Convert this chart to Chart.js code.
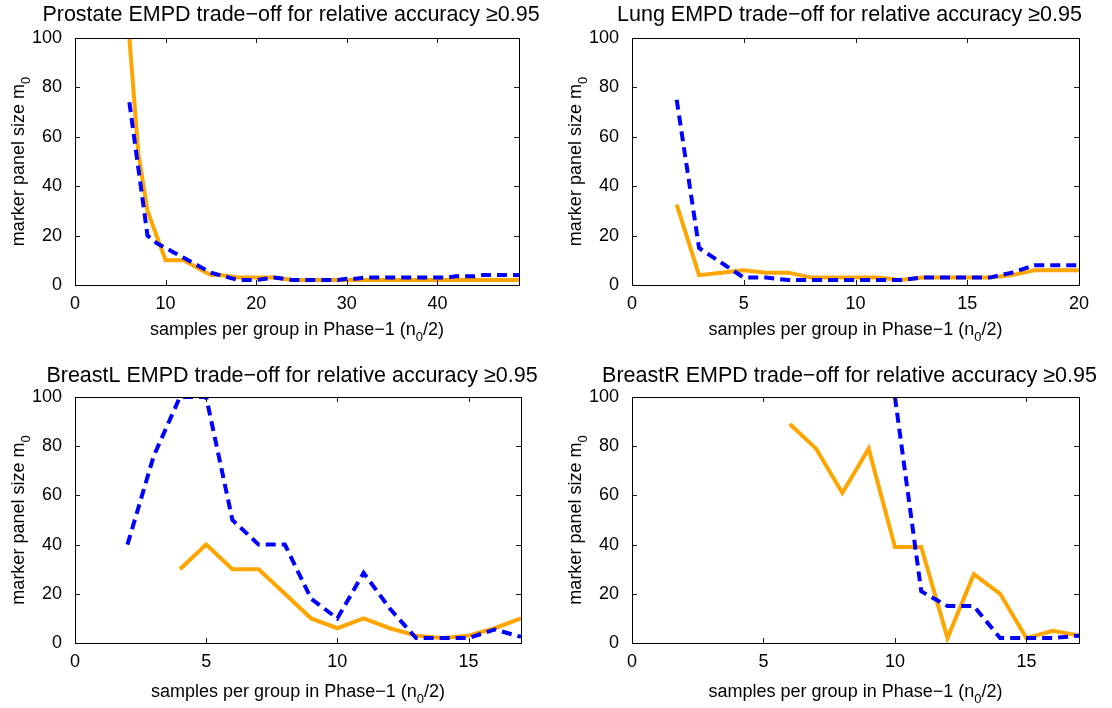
<!DOCTYPE html>
<html>
<head>
<meta charset="utf-8">
<script src="https://cdn.jsdelivr.net/npm/chart.js@4.4.1/dist/chart.umd.min.js"></script>
<style>
  body { margin: 0; background: #fff; width: 1112px; height: 708px; overflow: hidden; position: relative; }
  canvas { position: absolute; }
</style>
</head>
<body>
<canvas id="prostate" width="540" height="354" style="left:0;top:0"></canvas>
<canvas id="lung" width="556" height="354" style="left:556px;top:0"></canvas>
<canvas id="breastL" width="540" height="352" style="left:0;top:356px"></canvas>
<canvas id="breastR" width="556" height="352" style="left:556px;top:356px"></canvas>
<script>
// samples per group (x) and marker panel size (y)
const prostateX = [6, 7, 8, 9, 10, 11, 12, 13, 14, 15, 16, 17, 18, 19, 20, 21, 22, 23, 24, 25, 26, 27,
                   28, 29, 30, 31, 32, 33, 34, 35, 36, 37, 38, 39, 40, 41, 42, 43, 44, 45, 46, 47, 48, 49];
const prostateOrange = [100, 53, 30, 20, 10, 10, 10, 8, 6, 4, 4, 3.5, 3, 3, 3, 3, 3, 2.5, 2, 2, 2, 2,
                        2, 2, 2, 2, 2, 2, 2, 2, 2, 2, 2, 2, 2, 2, 2, 2, 2, 2, 2, 2, 2, 2];
const prostateBlue = [74, 47, 20, 17, 15, 13, 11, 9, 7, 5, 4, 3, 2, 2, 2, 2.5, 3, 2.5, 2, 2, 2, 2,
                      2, 2, 2.5, 2.5, 3, 3, 3, 3, 3, 3, 3, 3, 3, 3, 3.5, 3.5, 3.5, 4, 4, 4, 4, 4];

const lungX = [2, 3, 4, 5, 6, 7, 8, 9, 10, 11, 12, 13, 14, 15, 16, 17, 18, 19, 20];
const lungOrange = [32.5, 4, 5, 6, 5, 5, 3, 3, 3, 3, 2, 3, 3, 3, 3, 4, 6, 6, 6];
const lungBlue = [75, 15, 9, 3, 3, 2, 2, 2, 2, 2, 2, 3, 3, 3, 3, 5, 8, 8, 8];

const breastLXOrange = [4, 5, 6, 7, 8, 9, 10, 11, 12, 13, 14, 15, 16, 17];
const breastLOrange = [30, 40, 30, 30, 20, 10, 6, 10, 6, 3, 2, 3, 6, 10];
const breastLXBlue = [2, 3, 4, 5, 6, 7, 8, 9, 10, 11, 12, 13, 14, 15, 16, 17];
const breastLBlue = [40, 76, 100, 100, 50, 40, 40, 18, 10, 28.5, 14, 2, 2, 2, 5.5, 2.5];

const breastRXOrange = [6, 7, 8, 9, 10, 11, 12, 13, 14, 15, 16, 17];
const breastROrange = [89, 79, 61, 79, 39, 39, 2, 28, 20, 2, 5, 3];
const breastRXBlue = [10, 11, 12, 13, 14, 15, 16, 17];
const breastRBlue = [100, 21, 15, 15, 2, 2, 2, 3];

const yTicks = [0, 20, 40, 60, 80, 100];

const FONT = '"Liberation Sans", Arial, Helvetica, sans-serif';
Chart.defaults.font.family = FONT;
Chart.defaults.color = '#000';

function pts(xs, ys) {
  return xs.map((x, i) => ({ x: x, y: ys[i] }));
}

// text with a subscript part, centred on x
function drawParts(ctx, parts, x, y, size) {
  let w = 0;
  parts.forEach(p => {
    ctx.font = (p.sub ? size * 0.72 : size) + 'px ' + FONT;
    p.w = ctx.measureText(p.t).width;
    w += p.w;
  });
  let cx = x - w / 2;
  parts.forEach(p => {
    ctx.font = (p.sub ? size * 0.72 : size) + 'px ' + FONT;
    ctx.fillText(p.t, cx, y + (p.sub ? size * 0.32 : 0));
    cx += p.w;
  });
}

const yLabel = [{ t: 'marker panel size m' }, { t: '0', sub: true }];
const xLabel = [{ t: 'samples per group in Phase\u22121 (n' }, { t: '0', sub: true }, { t: '/2)' }];

// box, inward ticks and axis texts, matlab style
const frame = {
  id: 'frame',
  afterDatasetsDraw(chart, args, opts) {
    const ctx = chart.ctx;
    const a = chart.chartArea;
    const sx = chart.scales.x, sy = chart.scales.y;
    ctx.save();
    ctx.strokeStyle = '#1a1a1a';
    ctx.lineWidth = 1;
    ctx.beginPath();
    sx.ticks.forEach(t => {
      const px = Math.round(sx.getPixelForValue(t.value)) + 0.5;
      ctx.moveTo(px, a.bottom); ctx.lineTo(px, a.bottom - 5);
      ctx.moveTo(px, a.top); ctx.lineTo(px, a.top + 5);
    });
    sy.ticks.forEach(t => {
      const py = Math.round(sy.getPixelForValue(t.value)) + 0.5;
      ctx.moveTo(a.left, py); ctx.lineTo(a.left + 5, py);
      ctx.moveTo(a.right, py); ctx.lineTo(a.right - 5, py);
    });
    ctx.stroke();
    ctx.strokeStyle = '#000';
    ctx.strokeRect(Math.round(a.left) + 0.5, Math.round(a.top) + 0.5, Math.round(a.width), Math.round(a.height));

    ctx.fillStyle = '#000';
    ctx.textBaseline = 'alphabetic';
    ctx.textAlign = 'left';
    const mid = (a.left + a.right) / 2;
    drawParts(ctx, [{ t: opts.title }], mid - 6, opts.titleY, 21.5);
    drawParts(ctx, xLabel, mid, opts.xLabelY, 18);
    ctx.translate(opts.yLabelX, (a.top + a.bottom) / 2);
    ctx.rotate(-Math.PI / 2);
    drawParts(ctx, yLabel, 0, 0, 18);
    ctx.restore();
  }
};

function makePanel(id, p) {
  new Chart(document.getElementById(id), {
    type: 'line',
    data: {
      datasets: [
        { data: pts(p.blueX, p.blue), borderColor: '#0000ff', borderWidth: 4, borderDash: [10, 6],
          pointRadius: 0, tension: 0, fill: false, clip: 0 },
        { data: pts(p.orangeX, p.orange), borderColor: '#ffa500', borderWidth: 4,
          pointRadius: 0, tension: 0, fill: false, clip: 0 }
      ]
    },
    options: {
      responsive: false,
      animation: false,
      devicePixelRatio: 1,
      layout: { padding: { top: p.top, right: p.right, left: 0, bottom: 0 } },
      plugins: {
        legend: { display: false },
        tooltip: { enabled: false },
        frame: { title: p.title, titleY: p.titleY, xLabelY: p.xLabelY, yLabelX: p.yLabelX }
      },
      scales: {
        x: {
          type: 'linear', min: 0, max: p.xMax,
          ticks: { stepSize: p.xStep, includeBounds: false, font: { size: 18 }, color: '#000',
                   padding: 0, maxRotation: 0, autoSkip: false },
          grid: { display: false },
          border: { display: false },
          afterFit: s => { s.height = p.xHeight; }
        },
        y: {
          min: 0, max: 100,
          afterBuildTicks: s => { s.ticks = yTicks.map(v => ({ value: v })); },
          ticks: { font: { size: 18 }, color: '#000', padding: 5 },
          grid: { display: false },
          border: { display: false },
          afterFit: s => { s.width = p.yWidth; }
        }
      }
    },
    plugins: [frame]
  });
}

makePanel('prostate', {
  title: 'Prostate EMPD trade\u2212off for relative accuracy \u22650.95',
  orangeX: prostateX, orange: prostateOrange, blueX: prostateX, blue: prostateBlue,
  xMax: 49, xStep: 10, top: 38, right: 21, xHeight: 69, yWidth: 75,
  titleY: 21, xLabelY: 335, yLabelX: 24
});
makePanel('lung', {
  title: 'Lung EMPD trade\u2212off for relative accuracy \u22650.95',
  orangeX: lungX, orange: lungOrange, blueX: lungX, blue: lungBlue,
  xMax: 20, xStep: 5, top: 38, right: 33, xHeight: 69, yWidth: 76,
  titleY: 21, xLabelY: 335, yLabelX: 25
});
makePanel('breastL', {
  title: 'BreastL EMPD trade\u2212off for relative accuracy \u22650.95',
  orangeX: breastLXOrange, orange: breastLOrange, blueX: breastLXBlue, blue: breastLBlue,
  xMax: 17, xStep: 5, top: 41, right: 19, xHeight: 65, yWidth: 75,
  titleY: 25.5, xLabelY: 341, yLabelX: 24
});
makePanel('breastR', {
  title: 'BreastR EMPD trade\u2212off for relative accuracy \u22650.95',
  orangeX: breastRXOrange, orange: breastROrange, blueX: breastRXBlue, blue: breastRBlue,
  xMax: 17, xStep: 5, top: 41, right: 33, xHeight: 65, yWidth: 76,
  titleY: 25.5, xLabelY: 341, yLabelX: 25
});
</script>
</body>
</html>
